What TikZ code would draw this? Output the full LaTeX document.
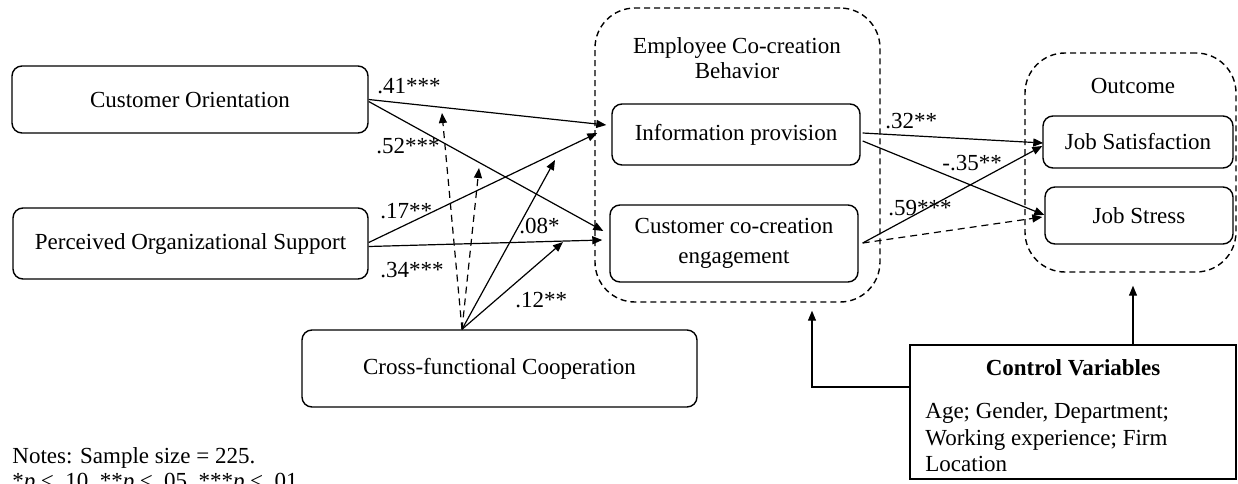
\documentclass[tikz,border=0pt]{standalone}
\usepackage{fontspec}
\setmainfont{Liberation Serif}
\usetikzlibrary{arrows.meta,calc}
\begin{document}
\begin{tikzpicture}[x=0.5pt,y=-0.5pt,
  font=\fontsize{11.5}{13.8}\selectfont,
  box/.style={draw, rounded corners=5pt, line width=0.7pt, inner sep=0pt, align=center},
  group/.style={draw, rounded corners=20pt, line width=0.7pt, dash pattern=on 3pt off 2pt},
  plain/.style={draw, line width=0.7pt, inner sep=0pt},
  path/.style={-{Triangle[length=5pt,width=4pt]}, line width=0.6pt},
  mod/.style={path, dash pattern=on 3.5pt off 2.5pt},
  coef/.style={anchor=base west, inner sep=0pt},
  txt/.style={anchor=base, inner sep=0pt}]
\useasboundingbox (0,0) rectangle (1238,483);

% grouping frames
\node[group, minimum width=142.5pt, minimum height=147pt] (ecb) at (737.5,155) {};
\node[group, minimum width=105.5pt, minimum height=109.5pt] (outc) at (1130.5,162.5) {};
\node[txt] (ecbt1) at (737,53) {Employee Co-creation};
\node[txt] (ecbt2) at (737,78) {Behavior};
\node[txt] (outt) at (1133,93) {Outcome};

% antecedents
\node[box, minimum width=178pt, minimum height=33.5pt] (co) at (190,99.5) {Customer Orientation};
\node[box, minimum width=177.5pt, minimum height=35.5pt] (pos) at (190.5,243.5) {Perceived Organizational Support};
\node[box, minimum width=197.5pt, minimum height=38.5pt] (cfc) at (499.5,368.5) {Cross-functional Cooperation};

% mediators
\node[box, minimum width=124pt, minimum height=30.5pt] (info) at (736,134.5) {Information provision};
\node[box, minimum width=124pt, minimum height=38.5pt,
      font=\fontsize{11.5}{15}\selectfont] (cce) at (734,243.5) {Customer co-creation\\engagement};

% outcomes
\node[box, minimum width=95pt, minimum height=26pt] (jsat) at (1138,142) {Job Satisfaction};
\node[box, minimum width=94pt, minimum height=28.5pt] (jstr) at (1139,215.5) {Job Stress};

% control variables
\node[plain, minimum width=163pt, minimum height=67pt] (ctrl) at (1073,412) {};
\node[txt, font=\fontsize{11.5}{13.8}\selectfont\bfseries] (ctrlt) at (1073,375) {Control Variables};
\node[coef] (ctrl1) at (925,418) {Age; Gender, Department;};
\node[coef] (ctrl2) at (925,445) {Working experience; Firm};
\node[coef] (ctrl3) at (925,471) {Location};

% free ends of the cooperation paths
\coordinate (cfctop) at ($(cfc.north)+(-37.5,0)$);
\coordinate (t08) at (555,160);
\coordinate (t12) at (563,242);
\coordinate (m1) at (442,113);
\coordinate (m2) at (479,168);

% antecedents -> mediators
\draw[path] (co.east) -- ($(info.west)+(-5,-9.5)$);
\draw[path] ($(co.east)+(0,2)$) -- ($(cce.west)+(-6,-12.5)$);
\draw[path] ($(pos.east)+(0,-1)$) -- ($(info.west)+(-14,-1.5)$);
\draw[path] ($(pos.east)+(0,3)$) -- ($(cce.west)+(-7,-3.5)$);
\draw[path] (cfctop) -- (t08);
\draw[path] (cfctop) -- (t12);
\draw[mod] (cfctop) -- (m1);
\draw[mod] (cfctop) -- (m2);

% mediators -> outcomes
\draw[path] ($(info.east)+(2,-1.5)$) -- ($(jsat.west)+(1,1)$);
\draw[path] ($(info.east)+(2,6.5)$) -- ($(jstr.west)+(0,-0.5)$);
\draw[path] ($(cce.east)+(4,-0.5)$) -- ($(jsat.west)+(0,4)$);
\draw[mod] ($(cce.east)+(4,-0.5)$) -- ($(jstr.west)+(-2,1.5)$);

% controls
\draw[path] ($(ctrl.north)+(60,0)$) -- ($(outc.south)+(2.5,13)$);
\draw[path] ($(ctrl.west)+(0,-25)$) -| ($(ecb.south)+(74.5,8)$);

% path coefficients
\node[coef] (c41) at (377,93) {.41***};
\node[coef] (c52) at (376,153) {.52***};
\node[coef] (c17) at (380,218) {.17**};
\node[coef] (c34) at (380,277) {.34***};
\node[coef] (c08) at (519,233) {.08*};
\node[coef] (c12) at (515,307) {.12**};
\node[coef] (c32) at (885,128) {.32**};
\node[coef] (c35) at (942,170) {-.35**};
\node[coef] (c59) at (888,215) {.59***};

% notes
\node[coef] (notes) at (12,463) {Notes: Sample size = 225.};
\node[coef] (sig) at (12,488) {*\textit{p} ≤ .10, **\textit{p} ≤ .05, ***\textit{p} ≤ .01};
\end{tikzpicture}
\end{document}
